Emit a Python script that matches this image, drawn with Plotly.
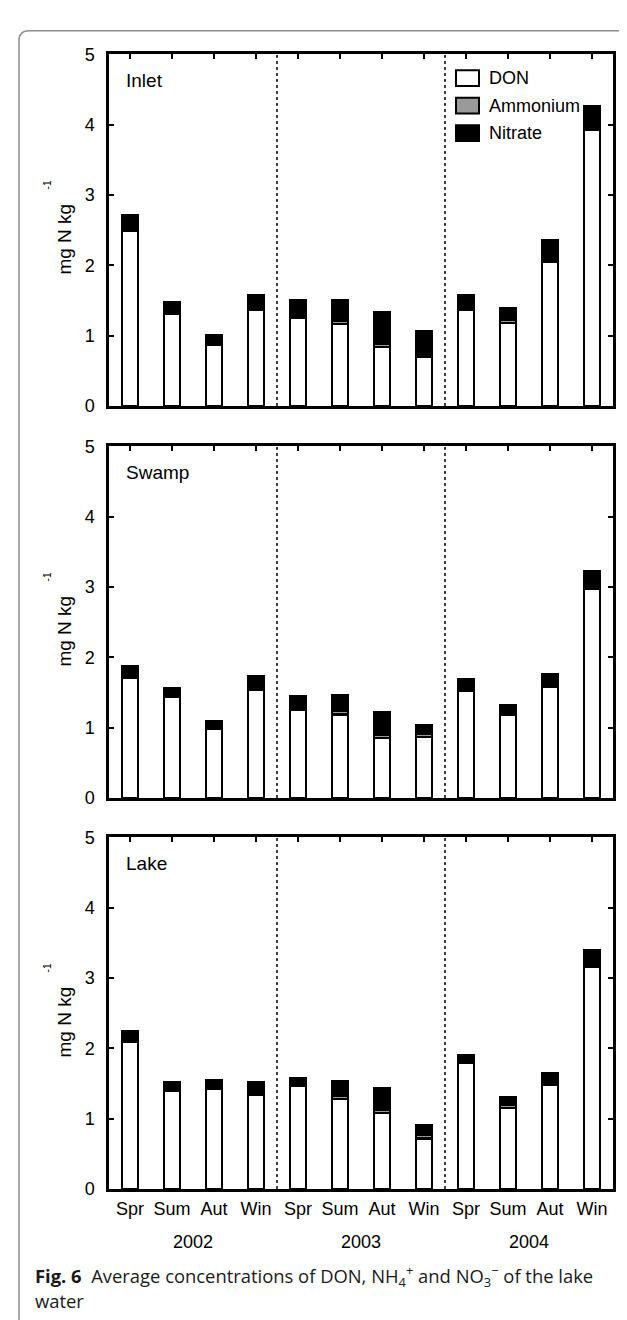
import plotly.graph_objects as go

W, H = 627, 1320

seasons = ["Spr", "Sum", "Aut", "Win"] * 3
years = ["2002", "2003", "2004"]
sites = ["Inlet", "Swamp", "Lake"]

inlet_don = [2.49, 1.31, 0.87, 1.37, 1.25, 1.17, 0.84, 0.70, 1.37, 1.18, 2.05, 3.93]
inlet_nh4 = [0.01, 0.01, 0.01, 0.01, 0.01, 0.04, 0.05, 0.01, 0.01, 0.05, 0.01, 0.01]
inlet_no3 = [0.22, 0.16, 0.13, 0.20, 0.25, 0.30, 0.45, 0.35, 0.20, 0.16, 0.30, 0.32]

swamp_don = [1.71, 1.44, 0.99, 1.54, 1.26, 1.19, 0.85, 0.87, 1.525, 1.19, 1.58, 2.98]
swamp_nh4 = [0.01, 0.01, 0.01, 0.01, 0.01, 0.05, 0.05, 0.05, 0.01, 0.01, 0.01, 0.01]
swamp_no3 = [0.16, 0.11, 0.09, 0.185, 0.17, 0.22, 0.32, 0.11, 0.155, 0.12, 0.17, 0.23]

lake_don = [2.09, 1.395, 1.42, 1.34, 1.465, 1.28, 1.08, 0.72, 1.79, 1.15, 1.48, 3.16]
lake_nh4 = [0.01, 0.01, 0.01, 0.01, 0.01, 0.04, 0.04, 0.05, 0.04, 0.05, 0.01, 0.01]
lake_no3 = [0.14, 0.12, 0.11, 0.165, 0.095, 0.21, 0.31, 0.13, 0.07, 0.11, 0.16, 0.22]

panels = [
    (inlet_don, inlet_nh4, inlet_no3),
    (swamp_don, swamp_nh4, swamp_no3),
    (lake_don, lake_nh4, lake_no3),
]

xs = list(range(1, 13))

def fx(px):
    return px / W

def fy(py):
    return 1 - py / H

FONT = "Liberation Sans, Arial, sans-serif"
CAPFONT = "Open Sans, Noto Sans, sans-serif"

# pixel geometry of panels (top, zero-line)
panel_px = [(37, 394), (435, 792), (832, 1189)]
x_left, x_right = 101, 605

fig = go.Figure()

series_styles = [
    ("DON", "white"),
    ("Ammonium", "#9a9a9a"),
    ("Nitrate", "black"),
]

for i, vals in enumerate(panels):
    xa = "x" if i == 0 else f"x{i+1}"
    ya = "y" if i == 0 else f"y{i+1}"
    for (name, color), v in zip(series_styles, vals):
        fig.add_trace(go.Bar(
            x=xs, y=v, name=name, xaxis=xa, yaxis=ya,
            width=0.38,
            marker=dict(color=color, line=dict(color="black", width=2.5)),
            showlegend=False,
        ))

layout = dict(
    width=W, height=H,
    margin=dict(l=0, r=0, t=0, b=0),
    paper_bgcolor="white", plot_bgcolor="white",
    barmode="stack",
    font=dict(family=FONT, size=18, color="black"),
    shapes=[], annotations=[],
)

for i, (top, zero) in enumerate(panel_px):
    sfx = "" if i == 0 else str(i + 1)
    anchor_x = "y" + sfx
    anchor_y = "x" + sfx
    xa_cfg = dict(
        domain=[fx(x_left), fx(x_right)], anchor=anchor_x,
        range=[0.5, 12.5], tickvals=xs,
        showticklabels=(i == 2),
        ticks="inside", ticklen=5, tickwidth=2, tickcolor="black",
        showline=True, linecolor="black", linewidth=2.5, mirror="ticks",
        showgrid=False, zeroline=False, layer="below traces",
        tickfont=dict(family=FONT, size=18, color="black"),
        ticklabelstandoff=2,
    )
    if i == 2:
        xa_cfg["ticktext"] = seasons
    layout["xaxis" + sfx] = xa_cfg
    layout["yaxis" + sfx] = dict(
        domain=[fy(zero), fy(top)], anchor=anchor_y,
        range=[0, 5], tickvals=[0, 1, 2, 3, 4, 5],
        ticks="inside", ticklen=5, tickwidth=2, tickcolor="black",
        showline=True, linecolor="black", linewidth=2.5, mirror="ticks",
        showgrid=False, zeroline=False, layer="below traces",
        tickfont=dict(family=FONT, size=18, color="black"),
        ticklabelstandoff=8,
    )
    # dotted year separators
    for xv in (4.5, 8.5):
        layout["shapes"].append(dict(
            type="line", xref="x" + sfx, yref="y" + sfx,
            x0=xv, x1=xv, y0=0, y1=5,
            line=dict(color="black", width=1.5, dash="dot"),
        ))
    # site label
    layout["annotations"].append(dict(
        text=sites[i], xref="paper", yref="paper",
        x=fx(116), y=fy(top + 26), xanchor="left", yanchor="middle",
        showarrow=False, font=dict(family=FONT, size=19, color="black"),
    ))
    # y title (main text + small raised exponent)
    layout["annotations"].append(dict(
        text="mg N kg", xref="paper", yref="paper",
        x=fx(57), y=fy(zero - 169), xanchor="center", yanchor="middle",
        textangle=-90, showarrow=False,
        font=dict(family=FONT, size=19, color="black"),
    ))
    layout["annotations"].append(dict(
        text="-1", xref="paper", yref="paper",
        x=fx(39), y=fy(zero - 224), xanchor="center", yanchor="middle",
        textangle=-90, showarrow=False,
        font=dict(family=FONT, size=10, color="black"),
    ))

# year labels
for j, yr in enumerate(years):
    layout["annotations"].append(dict(
        text=yr, xref="x3", yref="paper",
        x=2.5 + 4 * j, y=fy(1243), xanchor="center", yanchor="middle",
        showarrow=False, font=dict(family=FONT, size=18, color="black"),
    ))

# legend (manual, inside top panel)
leg_rows = [61, 89, 117]
for (name, color), yc in zip(series_styles, leg_rows):
    layout["shapes"].append(dict(
        type="rect", xref="paper", yref="paper",
        x0=fx(448), x1=fx(471), y0=fy(yc - 8), y1=fy(yc + 8),
        fillcolor=color, line=dict(color="black", width=2),
    ))
    layout["annotations"].append(dict(
        text=name, xref="paper", yref="paper",
        x=fx(479), y=fy(yc), xanchor="left", yanchor="middle",
        showarrow=False, font=dict(family=FONT, size=18, color="black"),
    ))

# card border (rounded corner top-left, extends beyond right/bottom)
r = 10
x0b, y0b = 11, 13
path = (f"M {fx(x0b)},{fy(H + 20)} L {fx(x0b)},{fy(y0b + r)} "
        f"Q {fx(x0b)},{fy(y0b)} {fx(x0b + r)},{fy(y0b)} L {fx(W + 20)},{fy(y0b)}")
layout["shapes"].append(dict(
    type="path", xref="paper", yref="paper", path=path,
    line=dict(color="#8c8c8c", width=1.5),
))

# caption
layout["annotations"].append(dict(
    text="<b>Fig. 6</b>  Average concentrations of DON, NH<sub>4</sub><sup>+</sup> and NO<sub>3</sub><sup>\u2212</sup> of the lake",
    xref="paper", yref="paper", x=fx(25), y=fy(1277), xanchor="left", yanchor="middle",
    showarrow=False, font=dict(family=CAPFONT, size=18.4, color="#1a1a1a"),
))
layout["annotations"].append(dict(
    text="water",
    xref="paper", yref="paper", x=fx(25), y=fy(1302), xanchor="left", yanchor="middle",
    showarrow=False, font=dict(family=CAPFONT, size=18.4, color="#1a1a1a"),
))

fig.update_layout(**layout)
fig.write_html("out.html")
